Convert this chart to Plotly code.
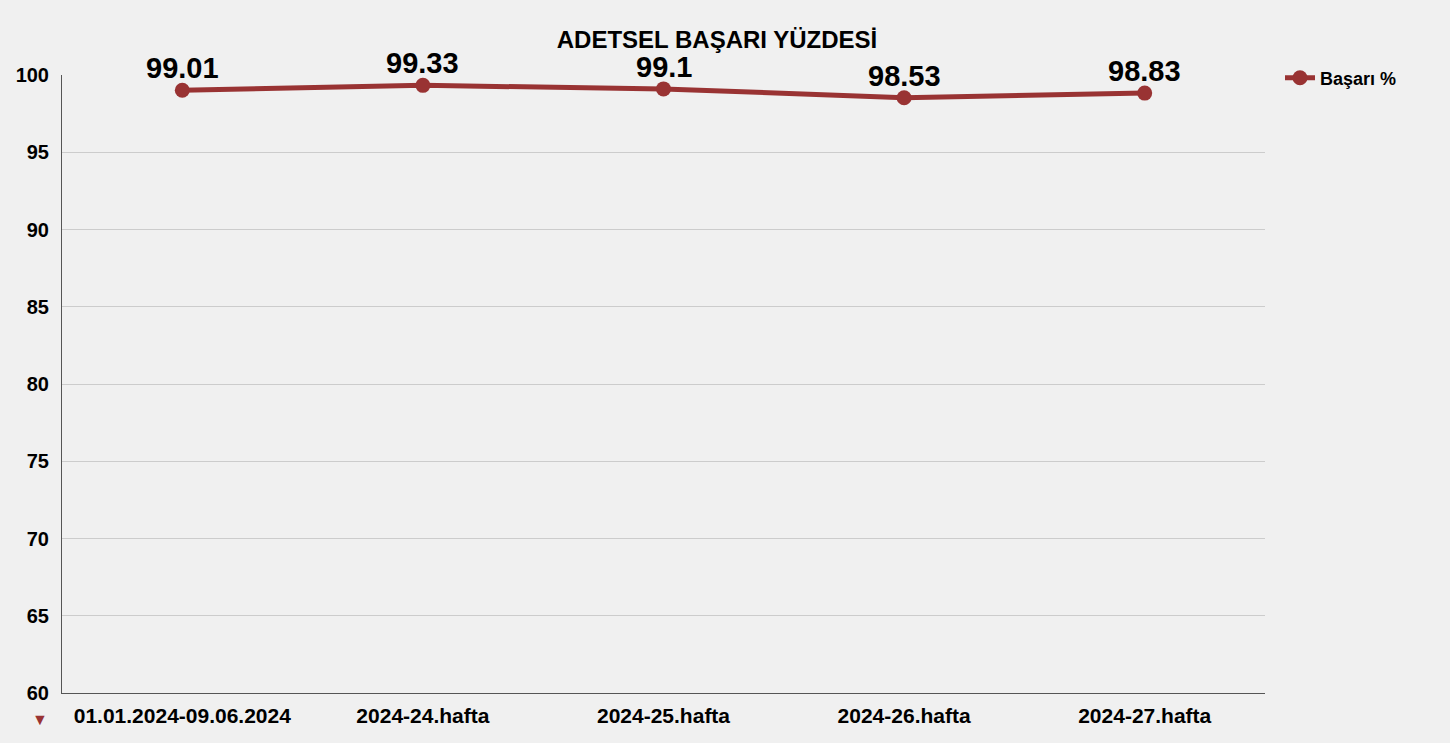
import plotly.graph_objects as go

categories = ["01.01.2024-09.06.2024", "2024-24.hafta", "2024-25.hafta", "2024-26.hafta", "2024-27.hafta"]
values = [99.01, 99.33, 99.1, 98.53, 98.83]
labels = ["99.01", "99.33", "99.1", "98.53", "98.83"]
y_ticks = [60, 65, 70, 75, 80, 85, 90, 95, 100]

FONT = "Liberation Sans, Arial, sans-serif"
RED = "#993333"

fig = go.Figure()
fig.add_trace(go.Scatter(
    x=categories, y=values, mode="lines+markers", name="Başarı %",
    line=dict(color=RED, width=5), marker=dict(color=RED, size=15),
    cliponaxis=False,
))
for c, v, t in zip(categories, values, labels):
    fig.add_annotation(x=c, y=v, text=t, showarrow=False, yanchor="bottom", yshift=4,
                       font=dict(family=FONT, size=29, color="#000000", weight="bold"))

W, H = 1450, 743
L, R, T, B = 62, 185, 75, 50
pw, ph = W - L - R, H - T - B

fig.update_layout(
    width=W, height=H,
    paper_bgcolor="#f0f0f0", plot_bgcolor="#f0f0f0",
    margin=dict(l=L, r=R, t=T, b=B),
    title=dict(text="ADETSEL BAŞARI YÜZDESİ", x=717 / W, xanchor="center",
               y=1 - 40 / H, yanchor="middle",
               font=dict(family=FONT, size=24, color="#000000", weight="bold")),
    font=dict(family=FONT, color="#000000"),
    showlegend=True,
    legend=dict(x=(1280 - L) / pw, y=1 - (78 - T) / ph, xanchor="left", yanchor="middle",
                bgcolor="rgba(0,0,0,0)", itemwidth=30,
                font=dict(family=FONT, size=18, color="#000000", weight="bold")),
    xaxis=dict(type="category", showgrid=False, showline=True, linecolor="#555555", linewidth=1,
               ticks="", tickfont=dict(family=FONT, size=21, color="#000000", weight="bold"),
               range=[-0.5, 4.5], zeroline=False, ticklabelstandoff=4),
    yaxis=dict(range=[60, 100], tickvals=y_ticks, showgrid=True, gridcolor="#cccccc", gridwidth=1,
               showline=True, linecolor="#555555", linewidth=1, ticks="",
               tickfont=dict(family=FONT, size=20, color="#000000", weight="bold"),
               zeroline=False, ticklabelstandoff=8),
)
fig.add_annotation(text="▼", xref="paper", yref="paper", x=(40 - L) / pw, y=-(719 - 693) / ph,
                   showarrow=False, font=dict(color=RED, size=16), xanchor="center", yanchor="middle")
fig.write_html("out.html")
